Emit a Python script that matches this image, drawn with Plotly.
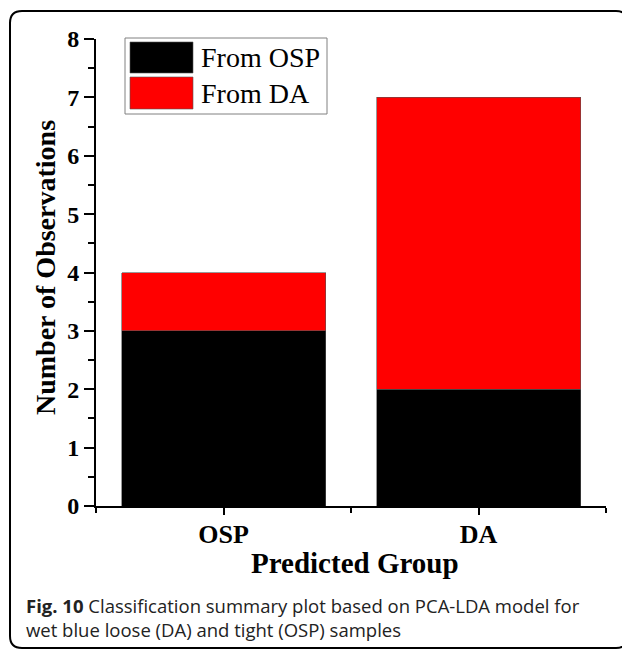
import plotly.graph_objects as go

# ---- data ----
categories = ["OSP", "DA"]
from_osp = [3, 2]
from_da = [1, 5]
series_names = ["From OSP", "From DA"]
y_ticks = [0, 1, 2, 3, 4, 5, 6, 7, 8]
x_title = "Predicted Group"
y_title = "Number of Observations"
caption_bold = "Fig. 10"
caption_line1 = " Classification summary plot based on PCA-LDA model for"
caption_line2 = "wet blue loose (DA) and tight (OSP) samples"

OFF = 8  # page body margin
W, H = 630 - OFF, 649 - OFF
L, R, T, B = 88, 24, 31, 143
PW, PH = W - L - R, H - T - B

def px(x):  # reference page pixel -> paper
    return (x - OFF - L) / PW

def py(y):
    return (H - B - (y - OFF)) / PH

SERIF = "Liberation Serif, Times New Roman, serif"
SANS = "Open Sans, Noto Sans, sans-serif"
colors = ["#000000", "#ff0000"]

xpos = list(range(len(categories)))
fig = go.Figure()
for name, vals, col in zip(series_names, [from_osp, from_da], colors):
    fig.add_trace(go.Bar(x=xpos, y=vals, name=name, width=0.8,
                         marker=dict(color=col, line=dict(color="#555555", width=0.6)),
                         showlegend=False))

fig.update_layout(
    barmode="stack",
    width=W, height=H,
    margin=dict(l=L, r=R, t=T, b=B),
    paper_bgcolor="white", plot_bgcolor="white",
    xaxis=dict(range=[-0.5, 1.5], tickvals=xpos, ticktext=categories,
               showline=True, linewidth=2, linecolor="black",
               ticks="outside", ticklen=7, tickwidth=2, tickcolor="black",
               showgrid=False, zeroline=False, ticklabelstandoff=-3,
               tickfont=dict(family=SERIF, size=26, color="black", weight="bold"),
               minor=dict(tickvals=[-0.5, 0.5, 1.5], ticks="outside", ticklen=5,
                          tickwidth=2, tickcolor="black", showgrid=False)),
    yaxis=dict(range=[0, 8], tickvals=y_ticks,
               showline=True, linewidth=2, linecolor="black",
               ticks="outside", ticklen=10, tickwidth=2, tickcolor="black",
               showgrid=False, zeroline=False,
               tickfont=dict(family=SERIF, size=24, color="black", weight="bold"),
               minor=dict(dtick=0.5, tick0=0, ticks="outside", ticklen=6,
                          tickwidth=2, tickcolor="black", showgrid=False)),
)

shapes = []
# outer rounded frame
x0, x1, y0, y1, r = 10, 628, 11, 648, 12
path = (f"M {px(x0+r)},{py(y0)} L {px(x1-r)},{py(y0)} Q {px(x1)},{py(y0)} {px(x1)},{py(y0+r)} "
        f"L {px(x1)},{py(y1-r)} Q {px(x1)},{py(y1)} {px(x1-r)},{py(y1)} "
        f"L {px(x0+r)},{py(y1)} Q {px(x0)},{py(y1)} {px(x0)},{py(y1-r)} "
        f"L {px(x0)},{py(y0+r)} Q {px(x0)},{py(y0)} {px(x0+r)},{py(y0)} Z")
shapes.append(dict(type="path", xref="paper", yref="paper", path=path,
                   line=dict(color="black", width=2), fillcolor="rgba(0,0,0,0)", layer="above"))
# legend box
shapes.append(dict(type="rect", xref="paper", yref="paper",
                   x0=px(125), x1=px(327), y0=py(38), y1=py(114),
                   line=dict(color="#808080", width=1), fillcolor="white", layer="above"))
sw = [(42, 73), (77, 109)]
annotations = []
for (a, b), col, name in zip(sw, colors, series_names):
    shapes.append(dict(type="rect", xref="paper", yref="paper",
                       x0=px(130), x1=px(193), y0=py(a), y1=py(b),
                       line=dict(color="#555555", width=0.6), fillcolor=col, layer="above"))
    annotations.append(dict(xref="paper", yref="paper", x=px(199), y=py((a + b) / 2),
                            xanchor="left", yanchor="middle", showarrow=False, text=name,
                            font=dict(family=SERIF, size=28, color="black")))

annotations.append(dict(xref="paper", yref="paper", x=px(45), y=py(268), textangle=-90,
                        xanchor="center", yanchor="middle", showarrow=False, text=y_title,
                        font=dict(family=SERIF, size=28, color="black", weight="bold")))
annotations.append(dict(xref="paper", yref="paper", x=px(355), y=py(563),
                        xanchor="center", yanchor="middle", showarrow=False, text=x_title,
                        font=dict(family=SERIF, size=29, color="black", weight="bold")))
annotations.append(dict(xref="paper", yref="paper", x=px(24), y=py(617),
                        xanchor="left", yanchor="middle", showarrow=False, align="left",
                        text=f"<b>{caption_bold}</b>{caption_line1}<br>{caption_line2}",
                        font=dict(family=SANS, size=18.5, color="#222222")))

fig.update_layout(shapes=shapes, annotations=annotations)
fig.write_html("out.html")
